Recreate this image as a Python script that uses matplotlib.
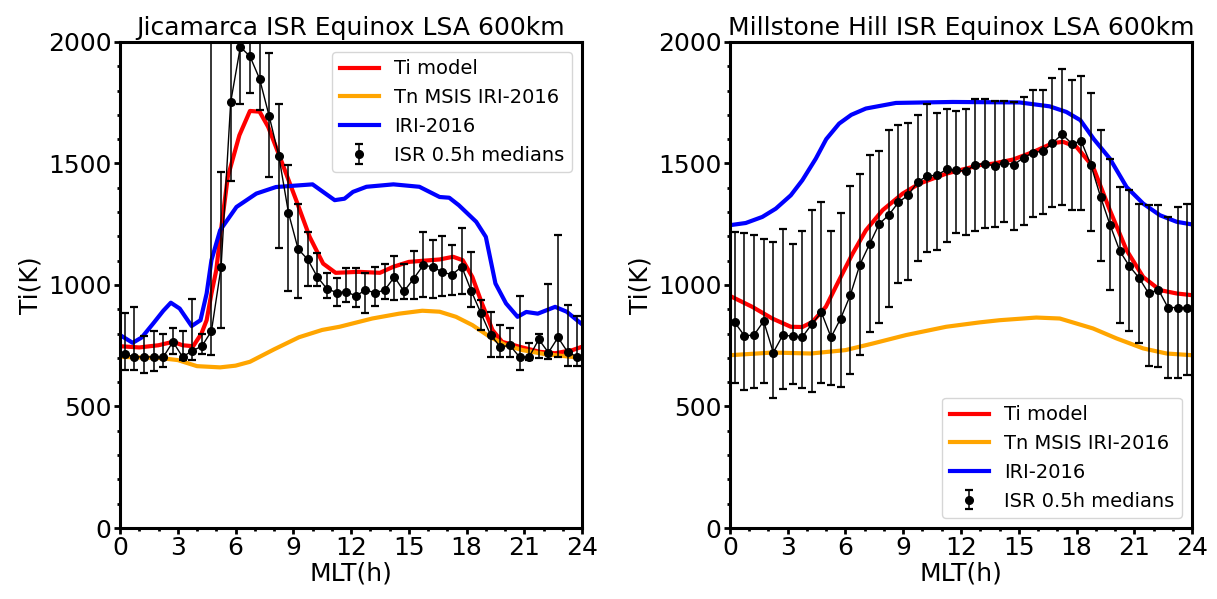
import numpy as np
import matplotlib
matplotlib.use("Agg")
import matplotlib.pyplot as plt
from matplotlib.ticker import MultipleLocator

# ISR 0.5h bins
mlt_isr = np.arange(0.25, 24.0, 0.5)

# --- Jicamarca ---
jro_ti = [715, 704, 704, 704, 704, 766, 704, 729, 748, 810,
          1074, 1753, 1979, 1941, 1848, 1694, 1530, 1297, 1148, 1105,
          1033, 984, 969, 972, 955, 979, 968, 979, 1033, 974,
          1026, 1081, 1075, 1052, 1043, 1075, 974, 883, 794, 746,
          751, 704, 704, 776, 722, 784, 724, 704]
jro_lo = [652, 650, 636, 647, 663, 715, 691, 691, 714, 711,
          824, 1427, 1743, 1791, 1719, 1445, 1151, 974, 947, 995,
          995, 947, 913, 931, 910, 885, 914, 944, 938, 944,
          944, 951, 948, 954, 958, 961, 910, 814, 704, 704,
          704, 650, 691, 698, 694, 704, 666, 666]
jro_hi = [885, 910, 789, 810, 800, 821, 810, 944, 800, 2150,
          1465, 2150, 2150, 2150, 2150, 1954, 1743, 1495, 1335, 1216,
          1132, 1048, 1028, 1068, 1068, 1050, 1072, 1086, 1118, 1088,
          1140, 1219, 1187, 1201, 1164, 1235, 1134, 938, 889, 835,
          824, 955, 762, 800, 1006, 1205, 917, 873]

jro_model_h = [0, 1, 2, 2.75, 3.25, 3.8, 4.23, 4.5, 4.75, 5.0, 5.2, 5.6, 6.2, 6.75,
               7.25, 7.7, 8.3, 9.15, 9.85, 10.55, 11.2, 12.4, 13.5, 14.2, 15.0,
               16.6, 17.3, 17.8, 18.3, 18.8, 19.35, 19.85, 20.75, 21.8, 22.6, 23.5, 24]
jro_model_t = [748, 743, 752, 766, 752, 748, 800, 855, 965, 1061, 1198, 1445, 1616, 1716,
               1713, 1650, 1527, 1349, 1198, 1088, 1050, 1054, 1050, 1075, 1095,
               1105, 1116, 1102, 1033, 924, 814, 766, 746, 725, 719, 732, 746]

jro_tn_h = [0, 2, 3, 4, 5.2, 6.0, 6.75, 8, 9.3, 10.5, 11.4, 13.1, 14.5, 15.7,
            16.6, 17.45, 18.3, 19.2, 20.05, 20.9, 22.1, 23.5, 24]
jro_tn_t = [704, 700, 691, 666, 661, 668, 684, 735, 785, 815, 828, 862, 882, 894,
            890, 869, 835, 787, 752, 732, 715, 704, 700]

jro_iri_h = [0, 0.66, 1.13, 1.73, 2.25, 2.64, 3.1, 3.72, 4.18, 4.5, 4.75, 5.2, 6.05,
             7.08, 8.1, 10.0, 11.15, 11.66, 12.1, 12.8, 14.2, 15.55, 16.6, 17.1,
             17.6, 18.5, 19.0, 19.5, 20.05, 20.65, 21.1, 21.7, 22.6, 23.2, 24]
jro_iri_t = [794, 762, 784, 842, 894, 927, 903, 831, 855, 965, 1102, 1225, 1321,
             1376, 1403, 1414, 1349, 1355, 1383, 1404, 1414, 1404, 1362, 1359,
             1328, 1260, 1198, 1006, 924, 869, 889, 882, 910, 890, 838]

# --- Millstone Hill ---
mho_ti = [846, 791, 794, 851, 722, 794, 789, 785, 839, 887,
          785, 862, 958, 1084, 1168, 1251, 1288, 1340, 1369, 1424,
          1449, 1451, 1476, 1472, 1469, 1495, 1499, 1490, 1502, 1495,
          1524, 1545, 1550, 1584, 1620, 1582, 1591, 1493, 1362, 1245,
          1139, 1077, 1029, 965, 981, 907, 907, 907]
mho_lo = [595, 567, 578, 595, 533, 570, 592, 577, 561, 598,
          587, 581, 632, 711, 807, 842, 910, 1009, 1020, 1099,
          1137, 1143, 1175, 1214, 1205, 1223, 1236, 1239, 1260, 1228,
          1246, 1280, 1294, 1321, 1328, 1308, 1310, 1223, 1098, 981,
          842, 811, 762, 668, 661, 618, 617, 629]
mho_hi = [1219, 1214, 1207, 1191, 1177, 1229, 1168, 1221, 1308, 1342,
          1223, 1297, 1408, 1458, 1536, 1550, 1639, 1660, 1668, 1698,
          1743, 1708, 1726, 1715, 1724, 1765, 1767, 1757, 1756, 1753,
          1772, 1804, 1804, 1852, 1889, 1845, 1859, 1790, 1637, 1520,
          1403, 1390, 1335, 1328, 1328, 1280, 1321, 1335]

mho_model_h = [0, 1.16, 2.2, 3.16, 3.76, 4.28, 4.98, 5.67, 6.37, 7.06, 7.93, 8.97,
               9.84, 11.23, 12.96, 13.65, 14.7, 15.74, 16.78, 17.3, 18.0, 18.86,
               19.73, 20.6, 21.46, 22.33, 23.2, 24]
mho_model_t = [955, 910, 862, 828, 827, 848, 910, 1020, 1129, 1225, 1308, 1376,
               1417, 1458, 1493, 1499, 1516, 1547, 1584, 1589, 1568, 1486,
               1308, 1143, 1033, 979, 965, 958]

mho_tn_h = [0, 2.2, 4.2, 6.0, 7.41, 9.15, 11.23, 12.96, 14.0, 15.91, 17.13, 18.86,
            20.08, 21.46, 22.68, 24]
mho_tn_t = [711, 722, 718, 732, 759, 794, 828, 846, 855, 866, 862, 821,
            780, 739, 718, 711]

mho_iri_h = [0, 0.82, 1.68, 2.38, 3.16, 3.76, 4.46, 5.0, 5.67, 6.3, 7.06, 8.62,
             11.57, 15.05, 16.6, 17.47, 18.2, 18.9, 19.73, 20.6, 21.46, 22.33, 23.2, 24]
mho_iri_t = [1246, 1255, 1280, 1314, 1369, 1431, 1520, 1600, 1664, 1700, 1726, 1749,
             1753, 1751, 1735, 1712, 1678, 1600, 1520, 1403, 1335, 1287, 1260, 1249]

plt.rcParams["font.family"] = "DejaVu Sans"

fig, axes = plt.subplots(1, 2, figsize=(12.17, 5.99), dpi=100)
fig.subplots_adjust(left=0.0986, right=0.9795, bottom=0.1185, top=0.930, wspace=0.32)

panels = [
    (axes[0], "Jicamarca ISR Equinox LSA 600km", jro_ti, jro_lo, jro_hi,
     jro_model_h, jro_model_t, jro_tn_h, jro_tn_t, jro_iri_h, jro_iri_t, "upper right"),
    (axes[1], "Millstone Hill ISR Equinox LSA 600km", mho_ti, mho_lo, mho_hi,
     mho_model_h, mho_model_t, mho_tn_h, mho_tn_t, mho_iri_h, mho_iri_t, "lower right"),
]

for ax, title, ti, lo, hi, mh, mt, th, tt, ih, it, loc in panels:
    ti = np.array(ti)
    yerr = [ti - np.array(lo), np.array(hi) - ti]
    ax.plot(mh, mt, color="red", lw=3, label="Ti model")
    ax.plot(th, tt, color="orange", lw=3, label="Tn MSIS IRI-2016")
    ax.plot(ih, it, color="blue", lw=3, label="IRI-2016")
    # thin line joining the medians (kept out of the legend)
    ax.plot(mlt_isr, ti, color="black", lw=1)
    ax.errorbar(mlt_isr, ti, yerr=yerr, fmt="o", color="black", ms=5.5,
                elinewidth=1.1, capsize=2.7, capthick=1.6, label="ISR 0.5h medians")
    ax.set_xlim(0, 24)
    ax.set_ylim(0, 2000)
    ax.xaxis.set_major_locator(MultipleLocator(3))
    ax.xaxis.set_minor_locator(MultipleLocator(1))
    ax.yaxis.set_major_locator(MultipleLocator(500))
    ax.yaxis.set_minor_locator(MultipleLocator(100))
    ax.tick_params(which="major", labelsize=18, width=2, length=4, pad=2)
    ax.tick_params(which="minor", width=2, length=2.5)
    for s in ax.spines.values():
        s.set_linewidth(2.2)
    ax.set_xlabel("MLT(h)", fontsize=18, labelpad=1)
    ax.set_ylabel("Ti(K)", fontsize=18, labelpad=4)
    ax.set_title(title, fontsize=18, pad=5)
    ax.legend(loc=loc, fontsize=14)

fig.savefig("out.png", dpi=100)
